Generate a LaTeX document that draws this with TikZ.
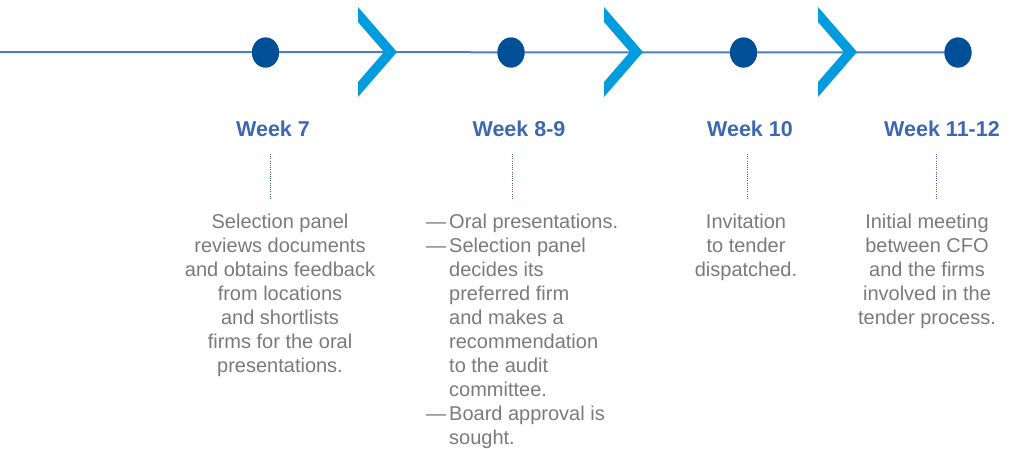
\documentclass[tikz,border=0pt]{standalone}
\usepackage{fontspec}
\setmainfont{Liberation Sans}
\usetikzlibrary{shapes.geometric}
\definecolor{linec}{HTML}{4C7EBA}
\definecolor{dotc}{HTML}{004F97}
\definecolor{chevc}{HTML}{009CDE}
\definecolor{headc}{HTML}{3D68B1}
\definecolor{textc}{HTML}{7A7A7A}
\tikzset{
  x=1pt,y=-1pt,
  milestone/.style={ellipse,fill=dotc,inner sep=0,minimum width=27,minimum height=30},
  chev/.style={fill=chevc},
  heading/.style={font=\bfseries\fontsize{21.5}{24}\selectfont,text=headc,inner sep=0},
  body/.style={font=\fontsize{20}{24}\selectfont,text=textc,inner sep=0,anchor=north},
  dotline/.style={draw=headc,line width=0.9pt,dash pattern=on 0.9pt off 1.3pt},
  mainline/.style={draw=linec,line width=2pt}
}
\newcommand{\chevronat}[1]{%
  \fill[chev] (#1,7) -- (#1+39,52) -- (#1,97) -- (#1,82) -- (#1+26,52) -- (#1,22) -- cycle;}
\newcommand{\itemdash}{\makebox[23pt][l]{---}}
\begin{document}
\begin{tikzpicture}
\useasboundingbox (0,0) rectangle (1010,448);
\coordinate (start) at (0,52);
\node[milestone] (d1) at (265.5,52.5) {};
\node[milestone] (d2) at (511,52.5) {};
\node[milestone] (d3) at (743.5,52.5) {};
\node[milestone] (d4) at (958,52.5) {};
\path[mainline] (start) -- (d4.center);
\node[milestone] at (d1) {};
\node[milestone] at (d2) {};
\node[milestone] at (d3) {};
\node[milestone] at (d4) {};
\chevronat{358}
\chevronat{604}
\chevronat{818}
% headings
\node[heading] (h1) at (273,129) {Week 7};
\node[heading] (h2) at (519,129) {Week 8-9};
\node[heading] (h3) at (750,129) {Week 10};
\node[heading] (h4) at (942,129) {Week 11-12};
% dotted connectors
\coordinate (a1) at (270,154); \coordinate (b1) at (270,199);
\coordinate (a2) at (512,154); \coordinate (b2) at (512,199);
\coordinate (a3) at (747,154); \coordinate (b3) at (747,199);
\coordinate (a4) at (936,154); \coordinate (b4) at (936,199);
\path[dotline] (a1) -- (b1);
\path[dotline] (a2) -- (b2);
\path[dotline] (a3) -- (b3);
\path[dotline] (a4) -- (b4);
% texts
\node[body,align=center] (t1) at (280,214) {Selection panel\\reviews documents\\and obtains feedback\\from locations\\and shortlists\\firms for the oral\\presentations.};
\node[body,align=left,anchor=north west] (t2) at (426,214) {\itemdash Oral presentations.\\\itemdash Selection panel\\\hspace*{23pt}decides its\\\hspace*{23pt}preferred firm\\\hspace*{23pt}and makes a\\\hspace*{23pt}recommendation\\\hspace*{23pt}to the audit\\\hspace*{23pt}committee.\\\itemdash Board approval is\\\hspace*{23pt}sought.};
\node[body,align=center] (t3) at (746,214) {Invitation\\to tender\\dispatched.};
\node[body,align=center] (t4) at (927,214) {Initial meeting\\between CFO\\and the firms\\involved in the\\tender process.};
\end{tikzpicture}
\end{document}
